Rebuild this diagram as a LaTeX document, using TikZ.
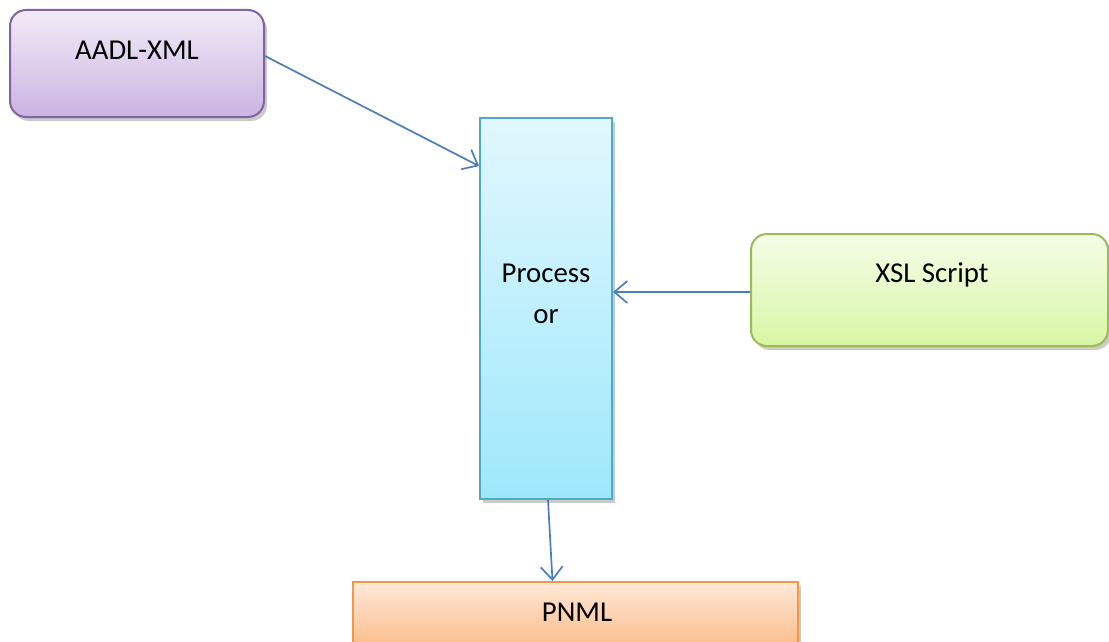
\documentclass[tikz,border=0pt]{standalone}
\usepackage{fontspec}
\setmainfont{Carlito}
\usetikzlibrary{arrows.meta,shadows,calc}

\definecolor{aadlTop}{HTML}{F1EBF8}
\definecolor{aadlBot}{HTML}{CCB4E2}
\definecolor{aadlLine}{HTML}{8064A2}
\definecolor{procTop}{HTML}{E1F7FD}
\definecolor{procBot}{HTML}{9EE8FC}
\definecolor{procLine}{HTML}{4BACC6}
\definecolor{xslTop}{HTML}{F5FDE8}
\definecolor{xslBot}{HTML}{D8F6A6}
\definecolor{xslLine}{HTML}{9BBB59}
\definecolor{pnmlTop}{HTML}{FEE9D8}
\definecolor{pnmlBot}{HTML}{FBBD8A}
\definecolor{pnmlLine}{HTML}{F79646}
\definecolor{flow}{HTML}{4A7EBB}

\tikzset{
  box/.style={draw, line width=2pt, inner sep=0pt,
    drop shadow={shadow xshift=3pt, shadow yshift=-4pt, fill=black!35, opacity=0.6}},
  label text/.style={font=\fontsize{28.8}{41}\selectfont, text=black, align=center, inner sep=0pt},
  flowline/.style={draw=flow, line width=1.7pt,
    -{Straight Barb[length=13pt,width=22pt,line width=1.7pt]}}
}

\begin{document}
\begin{tikzpicture}[x=1pt,y=-1pt]
\useasboundingbox (0,0) rectangle (1109,642);

% source model
\node[box, draw=aadlLine, rounded corners=16pt, top color=aadlTop, bottom color=aadlBot,
      minimum width=254pt, minimum height=107pt] (aadl) at (137,63.5) {};
\node[label text] (aadlText) at (137,50) {AADL-XML};

% processor
\node[box, draw=procLine, top color=procTop, bottom color=procBot,
      minimum width=132pt, minimum height=381pt] (proc) at (546,308.5) {};
\node[label text] (procText) at (546,294) {Process\\or};

% transformation script
\node[box, draw=xslLine, rounded corners=16pt, top color=xslTop, bottom color=xslBot,
      minimum width=357pt, minimum height=112pt] (xsl) at (929.5,290) {};
\node[label text] (xslText) at (932,275) {XSL Script};

% result
\node[box, draw=pnmlLine, top color=pnmlTop, bottom color=pnmlBot,
      minimum width=445pt, minimum height=64pt] (pnml) at (575.5,614) {};
\node[label text] (pnmlText) at (577,612) {PNML};

% connectors
\draw[flowline] ($(aadl.north east)+(0,47)$) -- ($(proc.north west)+(0,49)$);
\draw[flowline] ($(xsl.west)+(0,2)$) -- ($(proc.east |- xsl.west)+(0,2)$);
\draw[flowline] ($(proc.south)+(2,0)$) -- ($(pnml.north)+(-23,0)$);
\end{tikzpicture}
\end{document}
